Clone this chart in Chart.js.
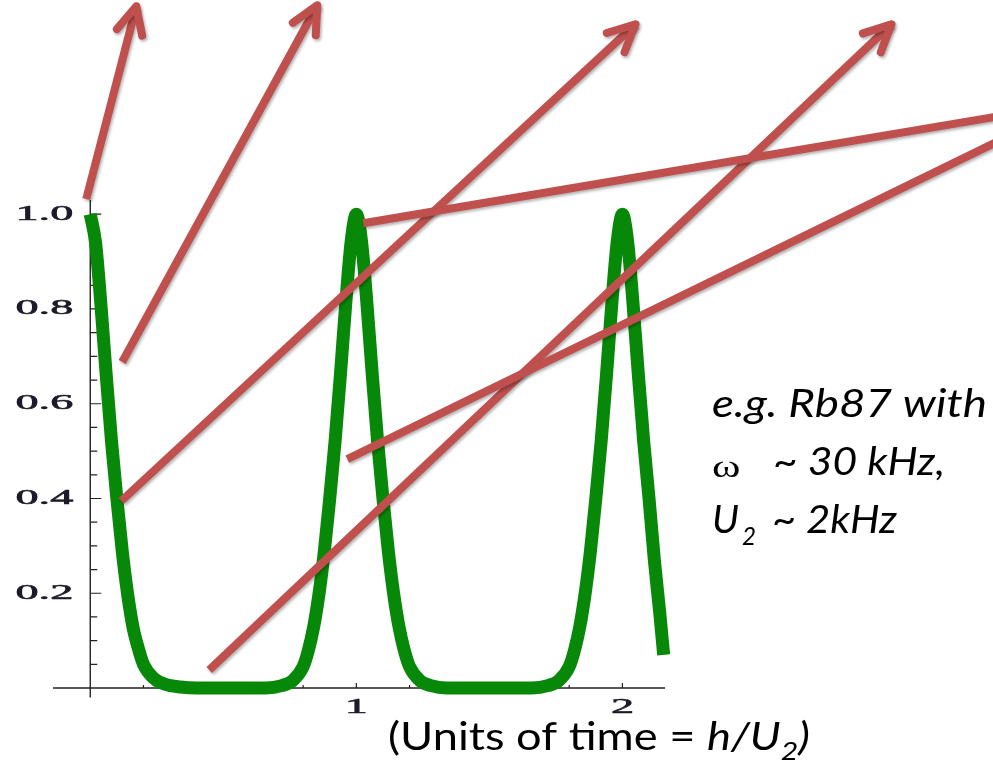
<!DOCTYPE html>
<html>
<head>
<meta charset="utf-8">
<script src="https://cdn.jsdelivr.net/npm/chart.js@4/dist/chart.umd.min.js"></script>
<style>
  html, body { margin: 0; padding: 0; background: #fff; }
  #chart { display: block; }
</style>
</head>
<body>
<canvas id="chart" width="993" height="764"></canvas>
<script>
// time in units of h/U2 and the return probability read at each time
const times = [
  0, 0.02, 0.04, 0.06, 0.08, 0.10, 0.12, 0.14, 0.16, 0.18, 0.20, 0.24, 0.28, 0.34, 0.40, 0.55, 0.66,
  0.72, 0.76, 0.80, 0.82, 0.84, 0.86, 0.88, 0.90, 0.92, 0.94, 0.96, 0.98, 1.00,
  1.02, 1.04, 1.06, 1.08, 1.10, 1.12, 1.14, 1.16, 1.18, 1.20, 1.24, 1.28, 1.34, 1.45, 1.55, 1.66,
  1.72, 1.76, 1.80, 1.82, 1.84, 1.86, 1.88, 1.90, 1.92, 1.94, 1.96, 1.98, 2.00,
  2.02, 2.04, 2.06, 2.08, 2.10, 2.12, 2.14, 2.155
];
const population = [
  1.0, 0.94, 0.81, 0.66, 0.52, 0.40, 0.29, 0.20, 0.13, 0.085, 0.05, 0.02, 0.008, 0.002, 0, 0, 0,
  0.005, 0.015, 0.045, 0.08, 0.13, 0.20, 0.29, 0.40, 0.52, 0.66, 0.81, 0.94, 1.0,
  0.94, 0.81, 0.66, 0.52, 0.40, 0.29, 0.20, 0.13, 0.08, 0.045, 0.015, 0.005, 0, 0, 0, 0,
  0.005, 0.015, 0.045, 0.08, 0.13, 0.20, 0.29, 0.40, 0.52, 0.66, 0.81, 0.94, 1.0,
  0.94, 0.81, 0.66, 0.52, 0.40, 0.27, 0.16, 0.07
];

const xTickValues = [0.2, 0.4, 0.6, 0.8, 1.0, 1.2, 1.4, 1.6, 1.8, 2.0];
const xLabelValues = [1, 2];
const xTickLabels = ['1', '2'];
const yTickValues = [0.05, 0.1, 0.15, 0.2, 0.25, 0.3, 0.35, 0.4, 0.45, 0.5,
                     0.55, 0.6, 0.65, 0.7, 0.75, 0.8, 0.85, 0.9, 0.95, 1.0];
const yLabelValues = [0.2, 0.4, 0.6, 0.8, 1.0];
const yTickLabels = ['0.2', '0.4', '0.6', '0.8', '1.0'];

// pointer arrows, in (time, population) units; the last two run off the page
const arrowStarts = [[-0.015, 1.032], [0.120, 0.688], [0.117, 0.395], [0.447, 0.038], [1.026, 0.981], [0.966, 0.483]];
const arrowEnds   = [[0.173, 1.439], [0.853, 1.441], [2.049, 1.401], [3.011, 1.401], [3.459, 1.211], [3.459, 1.167]];
const arrowHeads  = [true, true, true, true, false, false];

const RED = '#c0504d';
const GREEN = '#088808';
const INK = '#1e1a2a';
const LABEL_STRETCH = 2.2;

function stretchedText(ctx, text, x, y, sx, align, bold) {
  ctx.save();
  ctx.translate(x, y);
  ctx.scale(sx, 1);
  ctx.textAlign = align;
  ctx.fillText(text, 0, 0);
  if (bold) {
    ctx.lineWidth = bold;
    ctx.strokeStyle = ctx.fillStyle;
    ctx.strokeText(text, 0, 0);
  }
  ctx.restore();
}

// run of text pieces squeezed/stretched so the whole run spans `width`
function fitRun(ctx, pieces, x, y, width) {
  let total = 0;
  for (const p of pieces) {
    ctx.font = p.font;
    total += ctx.measureText(p.text).width + (p.gap || 0);
  }
  const sx = width / total;
  ctx.save();
  ctx.translate(x, y);
  ctx.scale(sx, 1);
  let cx = 0;
  for (const p of pieces) {
    ctx.font = p.font;
    cx += p.gap || 0;
    ctx.fillText(p.text, cx, p.dy || 0);
    cx += ctx.measureText(p.text).width;
  }
  ctx.restore();
}

const axesPlugin = {
  id: 'mathAxes',
  beforeDatasetsDraw(chart) {
    const {ctx, scales: {x, y}} = chart;
    const x0 = x.getPixelForValue(0);
    const y0 = y.getPixelForValue(0);
    ctx.save();
    ctx.strokeStyle = '#222';
    ctx.lineWidth = 1.4;
    ctx.beginPath();
    ctx.moveTo(x.getPixelForValue(-0.14), y0);
    ctx.lineTo(x.getPixelForValue(2.16), y0);
    ctx.moveTo(x0, y.getPixelForValue(-0.02));
    ctx.lineTo(x0, y.getPixelForValue(1.03));
    ctx.stroke();

    ctx.lineWidth = 1.2;
    ctx.beginPath();
    for (const v of yTickValues) {
      const py = y.getPixelForValue(v);
      const len = yLabelValues.some(m => Math.abs(m - v) < 1e-9) ? 11 : 7;
      ctx.moveTo(x0, py);
      ctx.lineTo(x0 + len, py);
    }
    for (const v of xTickValues) {
      const px = x.getPixelForValue(v);
      const len = xLabelValues.some(m => Math.abs(m - v) < 1e-9) ? 5 : 3;
      ctx.moveTo(px, y0);
      ctx.lineTo(px, y0 - len);
    }
    ctx.stroke();

    ctx.fillStyle = INK;
    ctx.font = '21px "Liberation Serif"';
    ctx.textBaseline = 'middle';
    yLabelValues.forEach((v, i) => {
      stretchedText(ctx, yTickLabels[i], x0 - 17, y.getPixelForValue(v), LABEL_STRETCH, 'right', 0.6);
    });
    xLabelValues.forEach((v, i) => {
      stretchedText(ctx, xTickLabels[i], x.getPixelForValue(v), y0 + 19, LABEL_STRETCH, 'center', 0.6);
    });
    ctx.restore();
  },
  afterDatasetsDraw(chart) {
    const {ctx, scales: {x, y}} = chart;
    ctx.save();
    ctx.strokeStyle = RED;
    ctx.lineWidth = 8;
    ctx.shadowColor = 'rgba(0,0,0,0.3)';
    ctx.shadowBlur = 3;
    ctx.shadowOffsetX = 1.5;
    ctx.shadowOffsetY = 2;
    arrowStarts.forEach((s, i) => {
      const ax = x.getPixelForValue(s[0]), ay = y.getPixelForValue(s[1]);
      const bx = x.getPixelForValue(arrowEnds[i][0]), by = y.getPixelForValue(arrowEnds[i][1]);
      ctx.lineCap = 'butt';
      ctx.beginPath();
      ctx.moveTo(ax, ay);
      ctx.lineTo(bx, by);
      ctx.stroke();
      if (arrowHeads[i]) {
        const ang = Math.atan2(by - ay, bx - ax);
        const L = 30, a = 0.45;
        ctx.lineCap = 'round';
        ctx.lineJoin = 'round';
        ctx.beginPath();
        ctx.moveTo(bx - L * Math.cos(ang - a), by - L * Math.sin(ang - a));
        ctx.lineTo(bx, by);
        ctx.lineTo(bx - L * Math.cos(ang + a), by - L * Math.sin(ang + a));
        ctx.stroke();
      }
    });
    ctx.restore();
  },
  afterDraw(chart) {
    const {ctx} = chart;
    const up = '39px Lato';
    const it = 'italic 39px Lato';
    const sub = 'italic 26px Lato';
    ctx.save();
    ctx.fillStyle = '#000';
    ctx.textBaseline = 'alphabetic';
    ctx.textAlign = 'left';

    fitRun(ctx, [{text: '(Units of time = ', font: up}, {text: 'h/U', font: it},
                 {text: '2', font: sub, dy: 10}, {text: ')', font: it}], 388, 750, 422);

    fitRun(ctx, [{text: 'e.g. Rb87 with', font: it}], 712, 417, 275);
    ctx.save();
    ctx.font = '32px "Liberation Serif"';
    stretchedText(ctx, '\u03c9', 712, 477, 1.35, 'left');
    ctx.restore();
    fitRun(ctx, [{text: '~ 30 kHz,', font: it}], 773, 475, 172);
    fitRun(ctx, [{text: 'U', font: it}], 712, 533, 27);
    fitRun(ctx, [{text: '2', font: sub}], 742, 545, 14);
    fitRun(ctx, [{text: '~ 2kHz', font: it}], 772, 533, 125);
    ctx.restore();
  }
};

new Chart(document.getElementById('chart'), {
  type: 'line',
  data: {
    datasets: [{
      data: times.map((t, i) => ({x: t, y: population[i]})),
      borderColor: GREEN,
      borderWidth: 13,
      pointRadius: 0,
      cubicInterpolationMode: 'monotone',
      fill: false,
      clip: false
    }]
  },
  options: {
    responsive: false,
    animation: false,
    events: [],
    layout: {padding: {left: 53, right: 328, top: 200, bottom: 76}},
    scales: {
      x: {type: 'linear', min: -0.14, max: 2.16, display: false},
      y: {type: 'linear', min: 0, max: 1.03, display: false}
    },
    plugins: {legend: {display: false}, tooltip: {enabled: false}}
  },
  plugins: [axesPlugin]
});
</script>
</body>
</html>
